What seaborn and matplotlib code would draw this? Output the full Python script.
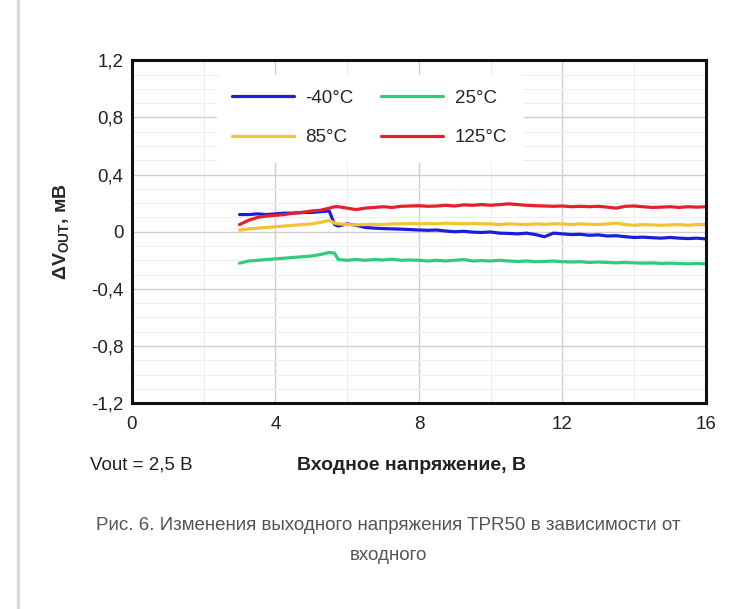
import numpy as np
import pandas as pd
import seaborn as sns
import matplotlib.pyplot as plt
from matplotlib.lines import Line2D
from matplotlib.ticker import MultipleLocator

# input voltage, V
vin = [3.0, 3.25, 3.5, 3.75, 4.0, 4.25, 4.5, 4.75, 5.0, 5.25, 5.5, 5.65,
       5.75, 6.0, 6.25, 6.5, 6.75, 7.0, 7.25, 7.5, 7.75, 8.0, 8.25, 8.5, 8.75,
       9.0, 9.25, 9.5, 9.75, 10.0, 10.25, 10.5, 10.75, 11.0, 11.25, 11.5, 11.75,
       12.0, 12.25, 12.5, 12.75, 13.0, 13.25, 13.5, 13.75, 14.0, 14.25, 14.5,
       14.75, 15.0, 15.25, 15.5, 15.75, 16.0]

# delta Vout, mV
dv_m40 = [0.12, 0.12, 0.125, 0.12, 0.125, 0.13, 0.13, 0.135, 0.135, 0.14, 0.145, 0.05,
          0.04, 0.055, 0.045, 0.03, 0.025, 0.022, 0.02, 0.018, 0.015, 0.012, 0.01, 0.012, 0.005,
          0.0, 0.003, -0.003, -0.005, -0.002, -0.01, -0.012, -0.015, -0.01, -0.02, -0.035, -0.01,
          -0.015, -0.02, -0.018, -0.025, -0.022, -0.03, -0.028, -0.035, -0.04, -0.038, -0.042,
          -0.045, -0.04, -0.045, -0.048, -0.045, -0.05]
dv_25 = [-0.22, -0.205, -0.2, -0.195, -0.19, -0.185, -0.18, -0.175, -0.17, -0.16, -0.145, -0.15,
         -0.195, -0.2, -0.195, -0.2, -0.195, -0.198, -0.192, -0.2, -0.198, -0.2, -0.205, -0.2, -0.205,
         -0.2, -0.195, -0.205, -0.202, -0.205, -0.2, -0.205, -0.208, -0.205, -0.21, -0.208, -0.205,
         -0.21, -0.212, -0.21, -0.215, -0.212, -0.215, -0.218, -0.215, -0.218, -0.22, -0.218,
         -0.222, -0.22, -0.222, -0.225, -0.222, -0.225]
dv_85 = [0.01, 0.02, 0.025, 0.03, 0.035, 0.04, 0.045, 0.05, 0.055, 0.065, 0.08, 0.06,
         0.055, 0.05, 0.048, 0.05, 0.052, 0.05, 0.055, 0.055, 0.058, 0.055, 0.058, 0.055, 0.06,
         0.058, 0.055, 0.058, 0.055, 0.055, 0.05, 0.055, 0.052, 0.05, 0.055, 0.052, 0.055,
         0.055, 0.05, 0.055, 0.052, 0.05, 0.055, 0.06, 0.05, 0.045, 0.05, 0.048,
         0.045, 0.048, 0.05, 0.045, 0.05, 0.052]
dv_125 = [0.05, 0.08, 0.10, 0.11, 0.115, 0.12, 0.13, 0.135, 0.145, 0.15, 0.165, 0.175,
          0.175, 0.165, 0.155, 0.165, 0.17, 0.175, 0.17, 0.178, 0.18, 0.182, 0.178, 0.18, 0.185,
          0.18, 0.188, 0.185, 0.19, 0.185, 0.19, 0.195, 0.19, 0.185, 0.182, 0.18, 0.178,
          0.18, 0.175, 0.178, 0.175, 0.178, 0.172, 0.165, 0.178, 0.18, 0.175, 0.17,
          0.172, 0.175, 0.17, 0.175, 0.172, 0.175]

temps = ["-40°C", "25°C", "85°C", "125°C"]
colors = ["#1c1ce0", "#2fcc7e", "#f4c232", "#e5202c"]
yticks = [-1.2, -0.8, -0.4, 0, 0.4, 0.8, 1.2]
ytick_labels = ["-1,2", "-0,8", "-0,4", "0", "0,4", "0,8", "1,2"]

df = pd.DataFrame({"vin": vin * 4,
                   "dv": dv_m40 + dv_25 + dv_85 + dv_125,
                   "temp": np.repeat(temps, len(vin))})

sns.set_style("white")
plt.rcParams["font.family"] = ["Liberation Sans", "DejaVu Sans"]
plt.rcParams["mathtext.fontset"] = "custom"
plt.rcParams["mathtext.rm"] = "Liberation Sans"
plt.rcParams["mathtext.bf"] = "Liberation Sans:bold"

fig = plt.figure(figsize=(7.33, 6.09), dpi=100)
ax = fig.add_axes([0.180, 0.338, 0.783, 0.563])

sns.lineplot(data=df, x="vin", y="dv", hue="temp", hue_order=temps,
             palette=colors, linewidth=2.3, ax=ax, legend=False)

ax.set_xlim(0, 16)
ax.set_ylim(-1.2, 1.2)
ax.xaxis.set_major_locator(MultipleLocator(4))
ax.xaxis.set_minor_locator(MultipleLocator(2))
ax.yaxis.set_minor_locator(MultipleLocator(0.1))
ax.set_yticks(yticks)
ax.set_yticklabels(ytick_labels)
ax.grid(which="major", color="#d0d0d0", linewidth=1)
ax.grid(which="minor", color="#eeeeee", linewidth=0.8)
ax.set_axisbelow(True)
ax.tick_params(which="both", length=0, labelsize=13.5, colors="#222222")
ax.tick_params(axis="x", pad=9)
ax.tick_params(axis="y", pad=6)
for s in ax.spines.values():
    s.set_color("#111111")
    s.set_linewidth(2.2)

ax.set_xlabel("")
ax.set_ylabel(r"ΔV$_\mathbf{OUT}$, мВ", fontsize=14, fontweight="bold", labelpad=14)

# legend is filled row by row in the reference
order = [0, 2, 1, 3]
handles = [Line2D([], [], color=colors[i], linewidth=2.3) for i in order]
ax.legend(handles, [temps[i] for i in order], loc="upper left",
          bbox_to_anchor=(0.148, 0.958), ncol=2,
          frameon=True, facecolor="white", edgecolor="white", framealpha=1,
          fontsize=13.5, handlelength=3.3, labelspacing=1.2, columnspacing=1.5,
          handletextpad=0.6, borderpad=0.8, borderaxespad=0)

fig.text(0.123, 0.236, "Vout = 2,5 В", fontsize=13.5, color="#222222", va="center")
fig.text(0.562, 0.236, "Входное напряжение, В", fontsize=14, fontweight="bold",
         color="#222222", va="center", ha="center")

fig.text(0.53, 0.137, "Рис. 6. Изменения выходного напряжения TPR50 в зависимости от",
         fontsize=13.5, color="#555555", ha="center", va="center")
fig.text(0.53, 0.088, "входного", fontsize=13.5, color="#555555", ha="center", va="center")

fig.add_artist(Line2D([0.025, 0.025], [0, 1], color="#dddddd", linewidth=2.5,
                      transform=fig.transFigure))

fig.savefig("out.png", dpi=100)
